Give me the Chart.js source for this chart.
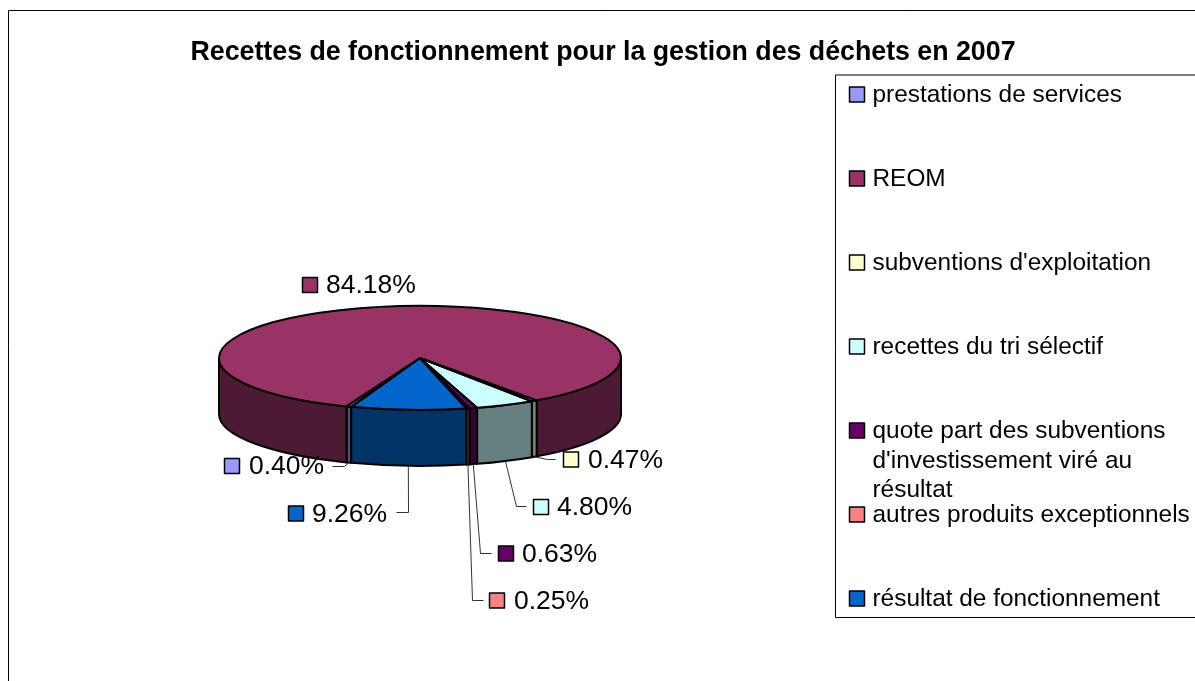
<!DOCTYPE html>
<html lang="fr">
<head>
<meta charset="utf-8">
<title>Recettes de fonctionnement</title>
<style>
html,body{margin:0;padding:0;background:#fff;width:1195px;height:681px;overflow:hidden}
canvas{display:block;position:absolute;left:0;top:0}
</style>
<script src="https://cdn.jsdelivr.net/npm/chart.js@4/dist/chart.umd.min.js"></script>
</head>
<body>
<canvas id="c" width="1206" height="681"></canvas>
<script>
const chartTitle = "Recettes de fonctionnement pour la gestion des déchets en 2007";
const categories = ["prestations de services","REOM","subventions d'exploitation","recettes du tri sélectif","quote part des subventions d'investissement viré au résultat","autres produits exceptionnels","résultat de fonctionnement"];
const legendLines = [["prestations de services"],["REOM"],["subventions d'exploitation"],["recettes du tri sélectif"],["quote part des subventions","d'investissement viré au","résultat"],["autres produits exceptionnels"],["résultat de fonctionnement"]];
const percentages = [0.40,84.18,0.47,4.80,0.63,0.25,9.26];
const topColors = ["#9999FF","#993366","#FFFFCC","#CCFFFF","#660066","#FF8080","#0066CC"];
const sideColors = ["#4D4D80","#4D1A33","#808066","#668080","#330033","#804040","#003366"];

// layout only
const PIE = {cx:420, cy:358, rx:201, ry:52, depth:56, rotation:200};
const FONT = 'Liberation Sans, Arial, sans-serif';
const LEGEND = {left:835.5, top:75, bottom:617.5, swatchX:849, textX:872.5, firstY:94.5, step:84, lineH:29.5, size:24.4};
const LABEL_SIZE = 26.5;
// swatch left, centre y, text left, elbow points of the leader (last point is next to the label)
const LABELS = [
  {x:224, y:466, tx:249, leader:[[344,466],[332,466]], wall:true},
  {x:302, y:285, tx:326, leader:null},
  {x:563, y:459.5, tx:588, leader:[[547,459],[555,459]], wall:true},
  {x:533, y:507, tx:557, leader:[[516,506],[526,506]], wall:true},
  {x:498, y:553.5, tx:522, leader:[[480,553],[491,553]], wall:true},
  {x:489, y:600.5, tx:514, leader:[[472,600],[483,600]], wall:true},
  {x:288, y:513.5, tx:312, leader:[[408,512],[396,512]], wall:true}
];

function swatch(ctx,x,yc,color){
  ctx.fillStyle=color; ctx.strokeStyle='#000'; ctx.lineWidth=1.5;
  ctx.beginPath(); ctx.rect(x+.5,yc-7.5,15,15); ctx.fill(); ctx.stroke();
}

const pie3d = {
  id:'pie3d',
  afterLayout(chart){
    const r=PIE.rx;
    chart.chartArea={left:PIE.cx-r,right:PIE.cx+r,top:PIE.cy-r,bottom:PIE.cy+r,width:2*r,height:2*r};
  },
  beforeDraw(chart){
    const ctx=chart.ctx;
    ctx.save();
    ctx.strokeStyle='#000'; ctx.lineWidth=1;
    ctx.beginPath();
    ctx.moveTo(8.5,681); ctx.lineTo(8.5,10.5); ctx.lineTo(1206,10.5);
    ctx.stroke();
    ctx.restore();
  },
  beforeDatasetsDraw(chart){
    const ctx=chart.ctx, arcs=chart.getDatasetMeta(0).data;
    const {cx,cy,ry,depth}=PIE;
    ctx.save();
    ctx.lineWidth=2; ctx.strokeStyle='#000'; ctx.lineJoin='round';
    arcs.forEach((arc,i)=>{
      const {startAngle:a,endAngle:b,outerRadius:R}=arc.getProps(['startAngle','endAngle','outerRadius'],true);
      for(let k=-2;k<=2;k++){
        const s=Math.max(a+k*2*Math.PI,0), e=Math.min(b+k*2*Math.PI,Math.PI);
        if(e<=s) continue;
        ctx.beginPath();
        ctx.ellipse(cx,cy+depth,R,ry,0,s,e,false);
        ctx.ellipse(cx,cy,R,ry,0,e,s,true);
        ctx.closePath();
        ctx.fillStyle=sideColors[i]; ctx.fill(); ctx.stroke();
      }
    });
    ctx.restore();
    ctx.save();
    ctx.translate(cx,cy); ctx.scale(1,ry/PIE.rx); ctx.translate(-cx,-cy);
  },
  afterDatasetsDraw(chart){
    const ctx=chart.ctx, arcs=chart.getDatasetMeta(0).data;
    ctx.restore();
    const {cx,cy,ry,depth}=PIE;
    ctx.save();
    // slice outlines
    ctx.lineWidth=2; ctx.strokeStyle='#000'; ctx.lineJoin='round';
    arcs.forEach(arc=>{
      const {startAngle:a,endAngle:b,outerRadius:R}=arc.getProps(['startAngle','endAngle','outerRadius'],true);
      ctx.beginPath();
      ctx.moveTo(cx,cy);
      ctx.ellipse(cx,cy,R,ry,0,a,b,false);
      ctx.closePath();
      ctx.stroke();
    });
    // leaders
    ctx.lineWidth=1; ctx.strokeStyle='#333';
    arcs.forEach((arc,i)=>{
      const L=LABELS[i]; if(!L.leader) return;
      const {startAngle:a,endAngle:b,outerRadius:R}=arc.getProps(['startAngle','endAngle','outerRadius'],true);
      const m=(a+b)/2;
      ctx.beginPath();
      ctx.moveTo(cx+R*Math.cos(m),cy+ry*Math.sin(m)+depth);
      L.leader.forEach(p=>ctx.lineTo(p[0]+.5,p[1]+.5));
      ctx.stroke();
    });
    // data labels
    ctx.textBaseline='middle'; ctx.textAlign='left';
    percentages.forEach((v,i)=>{
      const L=LABELS[i];
      swatch(ctx,L.x,L.y,topColors[i]);
      ctx.fillStyle='#000'; ctx.font=LABEL_SIZE+'px '+FONT;
      ctx.fillText(v.toFixed(2)+'%',L.tx,L.y+1);
    });
    // legend
    const G=LEGEND;
    ctx.strokeStyle='#000'; ctx.lineWidth=1;
    ctx.beginPath();
    ctx.moveTo(1206,G.top); ctx.lineTo(G.left,G.top); ctx.lineTo(G.left,G.bottom); ctx.lineTo(1206,G.bottom);
    ctx.stroke();
    ctx.font=G.size+'px '+FONT;
    legendLines.forEach((lines,i)=>{
      const y=G.firstY+i*G.step;
      swatch(ctx,G.swatchX,y,topColors[i]);
      ctx.fillStyle='#000';
      lines.forEach((t,j)=>ctx.fillText(t,G.textX,y+1+j*G.lineH));
    });
    ctx.restore();
  }
};

new Chart(document.getElementById('c').getContext('2d'),{
  type:'pie',
  data:{labels:categories,datasets:[{data:percentages,backgroundColor:topColors,borderWidth:0,rotation:PIE.rotation}]},
  options:{
    responsive:false,
    animation:false,
    plugins:{
      legend:{display:false},
      tooltip:{enabled:false},
      title:{display:true,text:chartTitle,color:'#000',padding:{top:37,bottom:0},
        font:{family:FONT,size:26.75,weight:'bold'}}
    }
  },
  plugins:[pie3d]
});
</script>
</body>
</html>
